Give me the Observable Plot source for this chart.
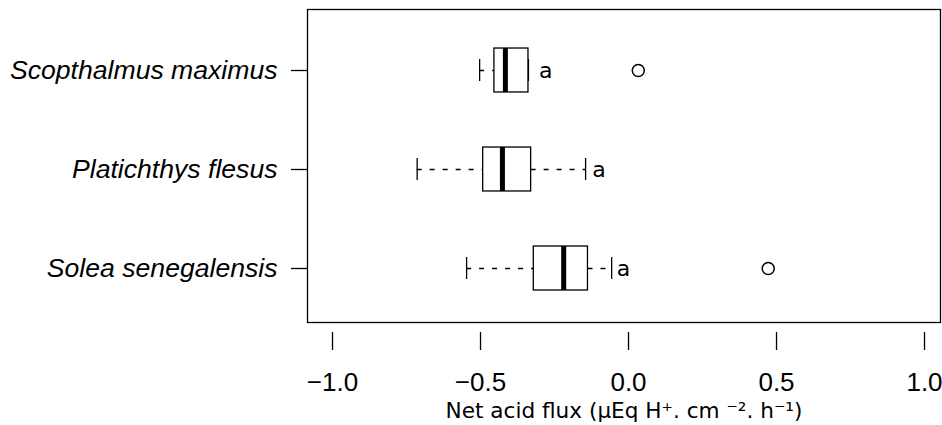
<!DOCTYPE html>
<html><head><meta charset="utf-8">
<script src="https://cdn.jsdelivr.net/npm/d3@7"></script>
<script src="https://cdn.jsdelivr.net/npm/@observablehq/plot@0.6"></script>
<style>body{margin:0;background:#fff}</style>
</head><body><div id="chart"></div>
<script>
// ---- data ----
const species = ["Scopthalmus maximus", "Platichthys flesus", "Solea senegalensis"];
const whiskerLow = [-0.503, -0.714, -0.547];
const q1 = [-0.453, -0.491, -0.320];
const median = [-0.416, -0.426, -0.219];
const q3 = [-0.338, -0.329, -0.137];
const whiskerHigh = [-0.338, -0.145, -0.057];
const outlierSpecies = ["Scopthalmus maximus", "Solea senegalensis"];
const outlierValues = [0.033, 0.472];
const letters = ["a", "a", "a"];
const letterX = [-0.28, -0.10, -0.017];
const xTicks = [-1, -0.5, 0, 0.5, 1];
const xLabel = "Net acid flux (µEq H⁺. cm ⁻². h⁻¹)";

// ---- build tables ----
const rows = species.map((s, i) => ({
  species: s, pos: i + 1,
  lo: whiskerLow[i], q1: q1[i], med: median[i], q3: q3[i], hi: whiskerHigh[i],
  letter: letters[i], lx: letterX[i]
}));
const outliers = outlierSpecies.map((s, i) => ({pos: species.indexOf(s) + 1, value: outlierValues[i]}));

const BOX = 0.222;   // half box height (in row units)
const CAP = 0.111;   // half staple height
const LW = 1.3;

const chart = Plot.plot({
  width: 942,
  height: 425,
  marginLeft: 307,
  marginRight: 2,
  marginTop: 9,
  marginBottom: 93,
  style: {fontFamily: "'Liberation Sans', Arial, sans-serif", fontSize: "26px", background: "white", color: "black"},
  x: {domain: [-1.0845, 1.054], label: null},
  y: {domain: [1, 3], range: [70, 268], label: null},
  marks: [
    Plot.frame({stroke: "black", strokeWidth: LW, insetBottom: 10}),
    // whiskers
    Plot.ruleY(rows, {y: "pos", x1: "lo", x2: "q1", stroke: "black", strokeWidth: LW, strokeDasharray: "5,8"}),
    Plot.ruleY(rows, {y: "pos", x1: "q3", x2: "hi", stroke: "black", strokeWidth: LW, strokeDasharray: "5,8"}),
    // staples
    Plot.ruleX(rows, {x: "lo", y1: d => d.pos - CAP, y2: d => d.pos + CAP, stroke: "black", strokeWidth: LW}),
    Plot.ruleX(rows, {x: "hi", y1: d => d.pos - CAP, y2: d => d.pos + CAP, stroke: "black", strokeWidth: LW}),
    // boxes
    Plot.rect(rows, {x1: "q1", x2: "q3", y1: d => d.pos - BOX, y2: d => d.pos + BOX, fill: "white", stroke: "black", strokeWidth: LW}),
    // medians
    Plot.ruleX(rows, {x: "med", y1: d => d.pos - BOX, y2: d => d.pos + BOX, stroke: "black", strokeWidth: 5}),
    // outliers
    Plot.dot(outliers, {x: "value", y: "pos", r: 6, stroke: "black", strokeWidth: 1.5, fill: "none"}),
    // letters
    Plot.text(rows, {x: "lx", y: "pos", text: "letter", fontSize: 22, fontFamily: "'DejaVu Sans'", fill: "black"}),
    // axes
    Plot.axisX({ticks: xTicks, tickFormat: d3.format(".1f"), tickSize: 18, tickPadding: 22, fontSize: 26, strokeWidth: LW, label: null}),
    Plot.axisY({ticks: [1, 2, 3], tickFormat: i => species[i - 1], tickSize: 16, tickPadding: 14, fontSize: 26.6, fontStyle: "italic", strokeWidth: LW, label: null}),
    // x axis title
    Plot.text([xLabel], {text: d => d, frameAnchor: "bottom", dy: 79, lineAnchor: "middle", fontSize: 21.6, fontFamily: "'DejaVu Sans'", fill: "black"})
  ]
});
document.getElementById("chart").appendChild(chart);
</script>
</body></html>
